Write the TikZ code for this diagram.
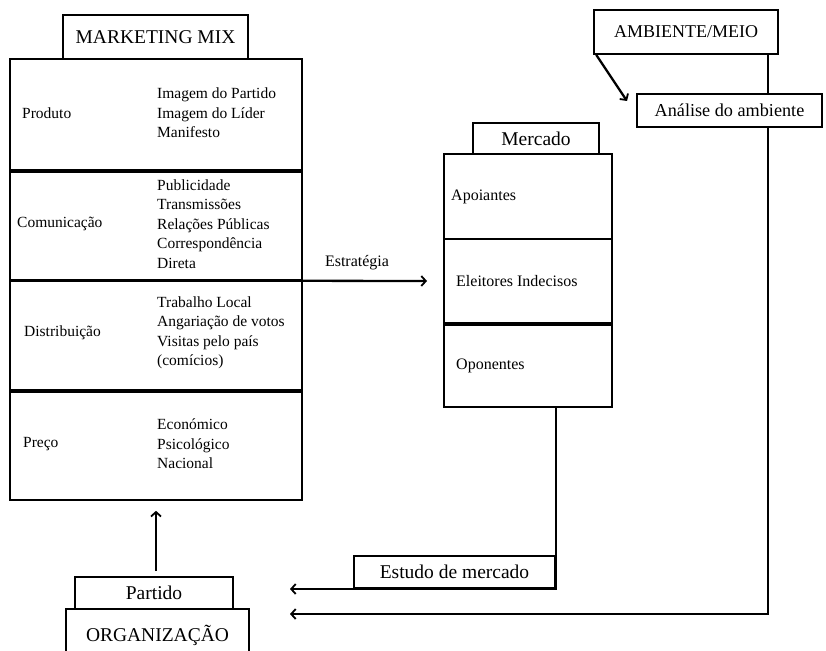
\documentclass[tikz,border=0pt]{standalone}
\usepackage{fontspec}
\setmainfont{Liberation Serif}
\usetikzlibrary{arrows.meta}
\begin{document}
\begin{tikzpicture}[x=1pt,y=-1pt,
  box/.style={draw,line width=1.6pt,inner sep=0pt},
  arr/.style={line width=2.3pt,-{Straight Barb[length=4.5pt,width=10pt,line width=1.8pt]}},
  ln/.style={line width=2.3pt},
  big/.style={font=\fontsize{19.5}{22}\selectfont},
  txt/.style={font=\fontsize{15.5}{19.5}\selectfont,align=left,inner sep=0pt}]
\useasboundingbox (0,0) rectangle (826,650);
\clip (0,0) rectangle (826,650);
% Marketing mix
\node[box,big,minimum width=185pt,minimum height=44pt] (mm) at (155.5,37) {MARKETING MIX};
\node[box,minimum width=292pt,minimum height=111pt] (prod) at (156,114.5) {};
\node[box,minimum width=292pt,minimum height=108pt] (com) at (156,226) {};
\node[box,minimum width=292pt,minimum height=109pt] (dis) at (156,335.5) {};
\node[box,minimum width=292pt,minimum height=108pt] (pre) at (156,446) {};
\node[txt,anchor=west] (prodL) at (22,113) {Produto};
\node[txt,anchor=west] (prodI) at (157,113) {Imagem do Partido\\Imagem do Líder\\Manifesto};
\node[txt,anchor=west] (comL) at (17,224) {Comunicação};
\node[txt,anchor=west] (comI) at (157,224) {Publicidade\\Transmissões\\Relações Públicas\\Correspondência\\Direta};
\node[txt,anchor=west] (disL) at (24,333) {Distribuição};
\node[txt,anchor=west] (disI) at (157,333) {Trabalho Local\\Angariação de votos\\Visitas pelo país\\(comícios)};
\node[txt,anchor=west] (preL) at (23,444) {Preço};
\node[txt,anchor=west] (preI) at (157,444) {Económico\\Psicológico\\Nacional};
% Mercado
\node[box,big,minimum width=126pt,minimum height=31pt] (merc) at (536,138.5) {Mercado};
\node[box,minimum width=168pt,minimum height=85pt] (apo) at (528,196.5) {};
\node[box,minimum width=168pt,minimum height=84pt] (ele) at (528,281) {};
\node[box,minimum width=168pt,minimum height=82pt] (opo) at (528,366) {};
\draw[line width=2.8pt] (ele.south west) -- (ele.south east);
\node[txt,anchor=west,font=\fontsize{16}{19.5}\selectfont] (apoL) at (451,197) {Apoiantes};
\node[txt,anchor=west,font=\fontsize{16}{19.5}\selectfont] (eleL) at (456,281) {Eleitores Indecisos};
\node[txt,anchor=west,font=\fontsize{16}{19.5}\selectfont] (opoL) at (456,366) {Oponentes};
% Ambiente
\node[box,font=\fontsize{18}{22}\selectfont,minimum width=184pt,minimum height=44pt] (amb) at (686,32) {AMBIENTE/MEIO};
\node[box,font=\fontsize{18.2}{22}\selectfont,minimum width=185pt,minimum height=33pt] (ana) at (729.5,110.5) {Análise do ambiente};
% Bottom
\node[box,big,minimum width=201pt,minimum height=32pt] (est) at (454.5,572) {Estudo de mercado};
\node[box,big,minimum width=158pt,minimum height=32pt] (par) at (154,593) {Partido};
\node[box,minimum width=183pt,minimum height=60pt] (org) at (157.5,639) {};
\node[big,inner sep=0pt] (orgL) at (157.5,635) {ORGANIZAÇÃO};
% coordinates
\coordinate (estrEnd) at (427,281);
\coordinate (anaIn) at (627,101);
\coordinate (vx) at (768,0);
\coordinate (ox) at (556,0);
\coordinate (orgIn) at (290,614);
\coordinate (parIn) at (290,589);
% connectors
\draw[arr] (com.south east) -- (estrEnd);
\node[txt,font=\fontsize{16}{19.5}\selectfont] (estrL) at (357,263) {Estratégia};
\draw[arr] ([xshift=3pt]amb.south west) -- (anaIn);
\draw[ln] (amb.south -| vx) -- (ana.north -| vx);
\draw[arr] (ana.south -| vx) -- (vx |- orgIn) -- (orgIn);
\draw[arr] (opo.south -| ox) -- (ox |- parIn) -- (parIn);
\draw[arr,shorten >=10pt,shorten <=5pt] (par.north -| pre.south) -- (pre.south);
\end{tikzpicture}
\end{document}
